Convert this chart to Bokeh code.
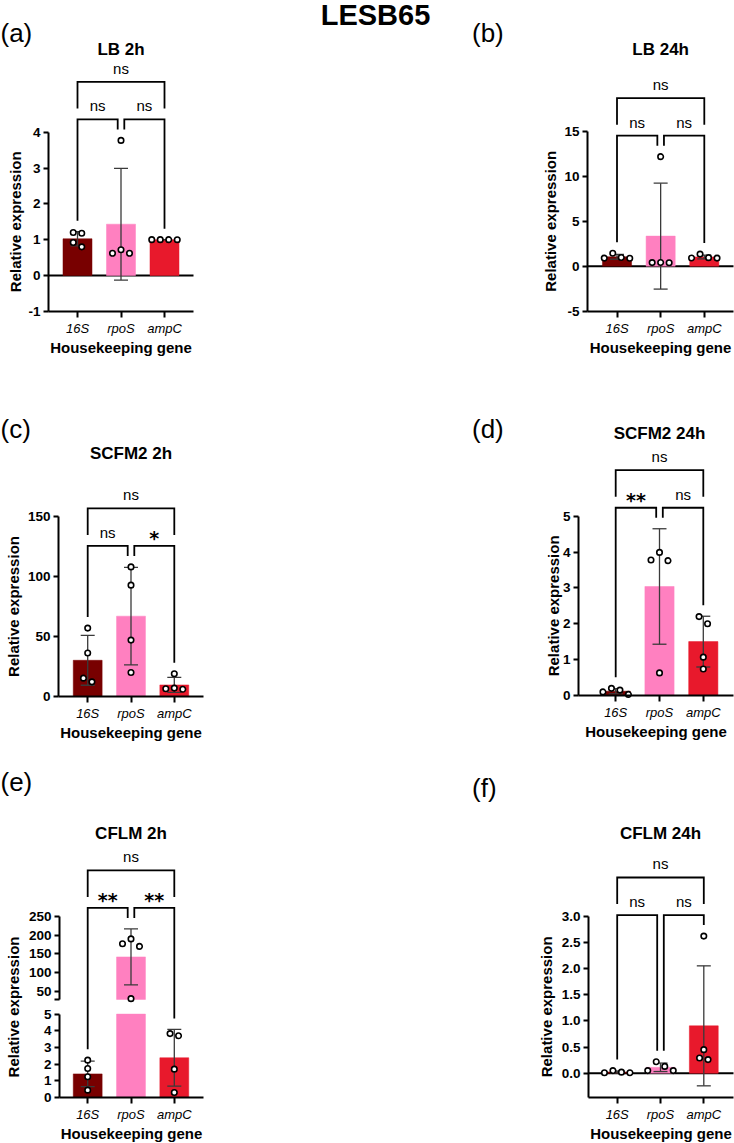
import math
import numpy as np
from bokeh.plotting import figure
from bokeh.models import Range1d, LinearAxis, FixedTicker, Label
from bokeh.layouts import row, column
from bokeh.embed import file_html
from bokeh.resources import INLINE

FONT = "Liberation Sans"
STAR_FONT = "DejaVu Sans"
INF = float("inf")

# ---------------- data ----------------
GENES = ["16S", "rpoS", "ampC"]
GENE_COLORS = ["#780000", "#ff80c0", "#e8192c"]

LB_2H_16S = [0.80, 1.18, 1.20, 0.92]
LB_2H_RPOS = [3.77, 0.62, 0.72, 0.62]
LB_2H_AMPC = [1.00, 1.00, 1.00, 1.00]

LB_24H_16S = [1.45, 0.90, 0.88, 0.97]
LB_24H_RPOS = [12.2, 0.40, 0.42, 0.38]
LB_24H_AMPC = [0.95, 1.35, 0.92, 0.90]

SCFM2_2H_16S = [57.0, 36.2, 15.3, 12.2]
SCFM2_2H_RPOS = [108.0, 92.8, 47.0, 20.0]
SCFM2_2H_AMPC = [19.0, 6.5, 7.0, 6.0]

SCFM2_24H_16S = [0.20, 0.03, 0.15, 0.10]
SCFM2_24H_RPOS = [3.99, 3.78, 3.76, 0.63]
SCFM2_24H_AMPC = [2.20, 2.00, 1.07, 0.74]

CFLM_2H_16S = [2.24, 1.74, 1.24, 0.44]
CFLM_2H_RPOS = [190.0, 177.0, 170.0, 30.0]
CFLM_2H_AMPC = [3.70, 3.83, 1.70, 0.30]

CFLM_24H_16S = [0.01, 0.05, 0.01, 0.02]
CFLM_24H_RPOS = [0.05, 0.13, 0.22, 0.05]
CFLM_24H_AMPC = [2.62, 0.45, 0.26, 0.29]

# significance: (16S vs rpoS, rpoS vs ampC, 16S vs ampC)
LB_2H_SIG = ["ns", "ns", "ns"]
LB_24H_SIG = ["ns", "ns", "ns"]
SCFM2_2H_SIG = ["ns", "*", "ns"]
SCFM2_24H_SIG = ["**", "ns", "ns"]
CFLM_2H_SIG = ["**", "**", "ns"]
CFLM_24H_SIG = ["ns", "ns", "ns"]

LB_2H_TICKS = [-1, 0, 1, 2, 3, 4]
LB_24H_TICKS = [-5, 0, 5, 10, 15]
SCFM2_2H_TICKS = [0, 50, 100, 150]
SCFM2_24H_TICKS = [0, 1, 2, 3, 4, 5]
CFLM_2H_TICKS_LOW = [0, 1, 2, 3, 4, 5]
CFLM_2H_TICKS_HIGH = [50, 100, 150, 200, 250]
CFLM_2H_BREAK = [5, 28]          # lower segment top, upper segment bottom
CFLM_24H_TICKS = [0.0, 0.5, 1.0, 1.5, 2.0, 2.5, 3.0]

MAIN_TITLE = "LESB65"
Y_LABEL = "Relative expression"
X_LABEL = "Housekeeping gene"

BAR_W = 0.667
BASELINE_FIX = 0.3   # Bokeh draws "alphabetic" labels about 0.3 em low


def stats(vals):
    a = np.array(vals, dtype=float)
    return float(a.mean()), float(a.std(ddof=1))


def swarm_offsets(vals, to_py, near=8.0, step=8.5):
    order = sorted(range(len(vals)), key=lambda i: (to_py(vals[i]), i))
    clusters, cur = [], [order[0]]
    for i in order[1:]:
        if abs(to_py(vals[i]) - to_py(vals[cur[-1]])) < near:
            cur.append(i)
        else:
            clusters.append(cur)
            cur = [i]
    clusters.append(cur)
    offs = [0.0] * len(vals)
    for cl in clusters:
        n = len(cl)
        slots = sorted(((k - (n - 1) / 2) * step for k in range(n)), key=lambda o: (abs(o), o))
        for i, o in zip(cl, slots):
            offs[i] = o
    return offs


def style_x(ax):
    ax.axis_line_width = 2
    ax.axis_line_color = "black"
    ax.major_tick_line_width = 2
    ax.major_tick_line_color = "black"
    ax.major_tick_in = 0
    ax.major_tick_out = 6
    ax.minor_tick_line_color = None
    ax.major_label_standoff = 3
    ax.major_label_text_font = FONT
    ax.major_label_text_font_size = "13px"
    ax.major_label_text_font_style = "italic"
    ax.major_label_text_color = "black"


def style_y(ax):
    ax.axis_line_width = 2
    ax.axis_line_color = "black"
    ax.major_tick_line_width = 2
    ax.major_tick_line_color = "black"
    ax.major_tick_in = 0
    ax.major_tick_out = 5
    ax.minor_tick_line_color = None
    ax.major_label_standoff = 3
    ax.major_label_text_font = FONT
    ax.major_label_text_font_size = "13.5px"
    ax.major_label_text_font_style = "bold"
    ax.major_label_text_color = "black"


class Panel:
    def __init__(self, X0, Y0, W, H, FL, FR, FB, xc0, sx, segs):
        # segs: (range_name, lo, hi, v_ref, py_ref, px_per_unit) ; page-pixel layout
        self.X0, self.Y0, self.xc0, self.sx = X0, Y0, xc0, sx
        self.FL, self.FR, self.FB = FL, FR, FB
        self.segs = segs
        s0 = segs[0]
        self.p = figure(width=W, height=H, output_backend="svg", toolbar_location=None,
                        title=None, x_axis_type=None, y_axis_type=None,
                        x_range=Range1d(self.px_to_x(X0), self.px_to_x(X0 + W)),
                        y_range=Range1d(self.py_to_y(Y0 + H, s0), self.py_to_y(Y0, s0)),
                        min_border_left=0, min_border_right=0,
                        min_border_top=0, min_border_bottom=0)
        for s in segs[1:]:
            self.p.extra_y_ranges[s[0]] = Range1d(self.py_to_y(Y0 + H, s), self.py_to_y(Y0, s))
        self.p.outline_line_color = None
        self.p.background_fill_color = "white"
        self.p.border_fill_color = "white"
        self.ax_x0 = self.px_to_x(X0 + FL)
        self.ax_x1 = self.px_to_x(X0 + FR)
        self.ax_y0 = self.py_to_y(Y0 + FB)

    def px_to_x(self, px):
        return (px - self.xc0) / self.sx

    def x_to_px(self, x):
        return self.xc0 + x * self.sx

    def py_to_y(self, py, seg=None):
        s = seg or self.segs[0]
        return s[3] + (s[4] - py) / s[5]

    def seg_of(self, v):
        for s in self.segs:
            if s[1] <= v <= s[2]:
                return s
        return None

    def v_to_py(self, v):
        s = self.seg_of(v)
        return s[4] - (v - s[3]) * s[5]

    def add_text(self, px, py, text, size, style="normal", font=FONT, align="center",
                 baseline="alphabetic", angle=0.0):
        if baseline == "alphabetic":
            py = py - BASELINE_FIX * size
        self.p.add_layout(Label(x=self.px_to_x(px), y=self.py_to_y(py), text=text,
                                text_font=font, text_font_size=f"{size}px",
                                text_font_style=style, text_align=align,
                                text_baseline=baseline, angle=angle, text_color="black"))

    def x_axis(self):
        xa = LinearAxis(ticker=FixedTicker(ticks=list(range(len(GENES)))),
                        major_label_overrides={i: g for i, g in enumerate(GENES)},
                        bounds=(self.ax_x0, self.ax_x1), fixed_location=self.ax_y0)
        style_x(xa)
        self.p.add_layout(xa, "below")
        self.add_text(self.X0 + (self.FL + self.FR) / 2, self.Y0 + self.FB + 40.5, X_LABEL, 15,
                      style="bold")

    def y_axis(self, ticks, bounds, fmt="{:g}", range_name="default", blank=None):
        labels = {t: ("" if t == blank else fmt.format(t)) for t in ticks}
        ya = LinearAxis(ticker=FixedTicker(ticks=ticks), bounds=bounds,
                        fixed_location=self.ax_x0, y_range_name=range_name,
                        major_label_overrides=labels)
        style_y(ya)
        self.p.add_layout(ya, "left")

    def y_label(self, px, v_lo, v_hi):
        py = (self.v_to_py(v_lo) + self.v_to_py(v_hi)) / 2
        self.add_text(px, py, Y_LABEL, 15, style="bold", baseline="middle", angle=math.pi / 2)

    def zero_line(self):
        self.p.segment(x0=[self.ax_x0], y0=[0], x1=[self.ax_x1], y1=[0],
                       line_color="black", line_width=2)

    def draw(self, groups, sig):
        p = self.p
        st = [stats(g) for g in groups]
        # bars
        for s in self.segs:
            kw = {} if s[0] == "default" else {"y_range_name": s[0]}
            bx, bt, bb, bc = [], [], [], []
            for gi, (m, sd) in enumerate(st):
                lo = max(0.0, s[1])
                hi = min(m, s[2])
                if hi > lo:
                    bx.append(gi); bt.append(hi); bb.append(lo); bc.append(GENE_COLORS[gi])
            if bx:
                p.vbar(x=bx, top=bt, bottom=bb, width=BAR_W, fill_color=bc, line_color=bc,
                       line_width=0.5, **kw)
        # error bars (mean +/- SD)
        cap = 7.0 / self.sx
        for s in self.segs:
            kw = {} if s[0] == "default" else {"y_range_name": s[0]}
            x0, y0, x1, y1 = [], [], [], []
            for gi, (m, sd) in enumerate(st):
                elo, ehi = m - sd, m + sd
                a, b = max(elo, s[1]), min(ehi, s[2])
                if b > a:
                    x0.append(gi); y0.append(a); x1.append(gi); y1.append(b)
                for e in (elo, ehi):
                    if s[1] <= e <= s[2]:
                        x0.append(gi - cap); y0.append(e); x1.append(gi + cap); y1.append(e)
            if x0:
                p.segment(x0=x0, y0=y0, x1=x1, y1=y1, line_color="#3a3a3a", line_width=1.3, **kw)
        # points
        for s in self.segs:
            kw = {} if s[0] == "default" else {"y_range_name": s[0]}
            px_, py_ = [], []
            for gi, g in enumerate(groups):
                offs = swarm_offsets(g, self.v_to_py)
                for v, o in zip(g, offs):
                    if s[1] <= v <= s[2]:
                        px_.append(gi + o / self.sx); py_.append(v)
            if px_:
                p.scatter(x=px_, y=py_, marker="circle", size=5.5, fill_color="white",
                          line_color="black", line_width=1.6, **kw)
        # significance brackets (placed in pixels above the data)
        tops = []
        for gi, (m, sd) in enumerate(st):
            vals = list(groups[gi]) + [m + sd, m]
            tops.append(min(self.v_to_py(v) for v in vals))
        L = min(tops) - 21.0
        T = L - 37.6
        c = [self.x_to_px(i) for i in range(3)]
        gap = 3.3
        legs = 11.0
        paths = [
            [(c[0], tops[0] - legs), (c[0], L), (c[1] - gap, L), (c[1] - gap, tops[1] - legs)],
            [(c[1] + gap, tops[1] - legs), (c[1] + gap, L), (c[2], L), (c[2], tops[2] - legs)],
            [(c[0], L - legs), (c[0], T), (c[2], T), (c[2], L - legs)],
        ]
        xs = [[self.px_to_x(a) for a, _ in path] for path in paths]
        ys = [[self.py_to_y(b) for _, b in path] for path in paths]
        p.multi_line(xs=xs, ys=ys, line_color="black", line_width=1.8, line_join="miter")
        spots = [((c[0] + c[1] - gap) / 2, L), ((c[1] + gap + c[2]) / 2, L), ((c[0] + c[2]) / 2, T)]
        for (sxp, syp), txt in zip(spots, sig):
            if txt == "ns":
                self.add_text(sxp, syp - 9.0, txt, 15)
            else:
                self.add_text(sxp, syp - 2.0, txt, 19, style="bold", font=STAR_FONT)


TITLE_PX = 17
TAG_PX = 26

# ---- (a) LB 2h
pa = Panel(0, 0, 440, 370, 48, 193, 311, 77.0, 43.5, [("default", -INF, INF, 0.0, 275.0, 35.83)])
pa.zero_line()
pa.draw([LB_2H_16S, LB_2H_RPOS, LB_2H_AMPC], LB_2H_SIG)
pa.x_axis()
pa.y_axis(LB_2H_TICKS, (LB_2H_TICKS[0], LB_2H_TICKS[-1]))
pa.y_label(15.0, LB_2H_TICKS[0], LB_2H_TICKS[-1])
pa.add_text(pa.x_to_px(1), 54.5, "LB 2h", TITLE_PX, style="bold")
pa.add_text(0, 40, "(a)", TAG_PX, align="left")
pa.add_text(375, 23.5, MAIN_TITLE, 29, style="bold")

# ---- (b) LB 24h
pb = Panel(440, 0, 294, 370, 147, 293, 311, 616.5, 43.65, [("default", -INF, INF, 0.0, 265.7, 8.98)])
pb.zero_line()
pb.draw([LB_24H_16S, LB_24H_RPOS, LB_24H_AMPC], LB_24H_SIG)
pb.x_axis()
pb.y_axis(LB_24H_TICKS, (LB_24H_TICKS[0], LB_24H_TICKS[-1]))
pb.y_label(549.7, LB_24H_TICKS[0], LB_24H_TICKS[-1])
pb.add_text(pb.x_to_px(1), 54.0, "LB 24h", TITLE_PX, style="bold")
pb.add_text(471.5, 40, "(b)", TAG_PX, align="left")

# ---- (c) SCFM2 2h
pc = Panel(0, 370, 440, 380, 58, 203, 326, 87.2, 43.3, [("default", -INF, INF, 0.0, 696.0, 1.2)])
pc.draw([SCFM2_2H_16S, SCFM2_2H_RPOS, SCFM2_2H_AMPC], SCFM2_2H_SIG)
pc.x_axis()
pc.y_axis(SCFM2_2H_TICKS, (SCFM2_2H_TICKS[0], SCFM2_2H_TICKS[-1]))
pc.y_label(12.5, SCFM2_2H_TICKS[0], SCFM2_2H_TICKS[-1])
pc.add_text(pc.x_to_px(1), 458.3, "SCFM2 2h", TITLE_PX, style="bold")
pc.add_text(0, 436, "(c)", TAG_PX, align="left")

# ---- (d) SCFM2 24h
pd_ = Panel(440, 370, 294, 380, 138, 293, 325, 615.2, 43.8, [("default", -INF, INF, 0.0, 695.0, 35.86)])
pd_.draw([SCFM2_24H_16S, SCFM2_24H_RPOS, SCFM2_24H_AMPC], SCFM2_24H_SIG)
pd_.x_axis()
pd_.y_axis(SCFM2_24H_TICKS, (SCFM2_24H_TICKS[0], SCFM2_24H_TICKS[-1]))
pd_.y_label(553.0, SCFM2_24H_TICKS[0], SCFM2_24H_TICKS[-1])
pd_.add_text(pd_.x_to_px(1), 437.7, "SCFM2 24h", TITLE_PX, style="bold")
pd_.add_text(471.5, 436, "(d)", TAG_PX, align="left")

# ---- (e) CFLM 2h, broken y axis
pe = Panel(0, 750, 440, 393, 59, 203, 347, 87.2, 43.3,
           [("default", -INF, CFLM_2H_BREAK[0], 0.0, 1097.0, 16.68),
            ("upper", CFLM_2H_BREAK[1], INF, 50.0, 990.7, 0.3735)])
pe.draw([CFLM_2H_16S, CFLM_2H_RPOS, CFLM_2H_AMPC], CFLM_2H_SIG)
pe.x_axis()
pe.y_axis(CFLM_2H_TICKS_LOW, (CFLM_2H_TICKS_LOW[0], CFLM_2H_TICKS_LOW[-1]))
pe.y_axis([CFLM_2H_BREAK[1]] + CFLM_2H_TICKS_HIGH, (CFLM_2H_BREAK[1], CFLM_2H_TICKS_HIGH[-1]),
          range_name="upper", blank=CFLM_2H_BREAK[1])
pe.y_label(13.0, CFLM_2H_TICKS_LOW[0], CFLM_2H_TICKS_HIGH[-1])
pe.add_text(pe.x_to_px(1), 838.3, "CFLM 2h", TITLE_PX, style="bold")
pe.add_text(0, 789.5, "(e)", TAG_PX, align="left")

# ---- (f) CFLM 24h
pf = Panel(440, 750, 294, 393, 148, 293, 347, 616.7, 43.3, [("default", -INF, INF, 0.0, 1072.7, 52.33)])
pf.zero_line()
pf.draw([CFLM_24H_16S, CFLM_24H_RPOS, CFLM_24H_AMPC], CFLM_24H_SIG)
pf.x_axis()
pf.y_axis(CFLM_24H_TICKS, (pf.ax_y0, CFLM_24H_TICKS[-1]), fmt="{:.1f}")
pf.y_label(545.8, pf.ax_y0, CFLM_24H_TICKS[-1])
pf.add_text(pf.x_to_px(1), 838.3, "CFLM 24h", TITLE_PX, style="bold")
pf.add_text(471.5, 795, "(f)", TAG_PX, align="left")

layout = column(row(pa.p, pb.p), row(pc.p, pd_.p), row(pe.p, pf.p))
open("out.html", "w").write(file_html(layout, INLINE, title="LESB65"))
